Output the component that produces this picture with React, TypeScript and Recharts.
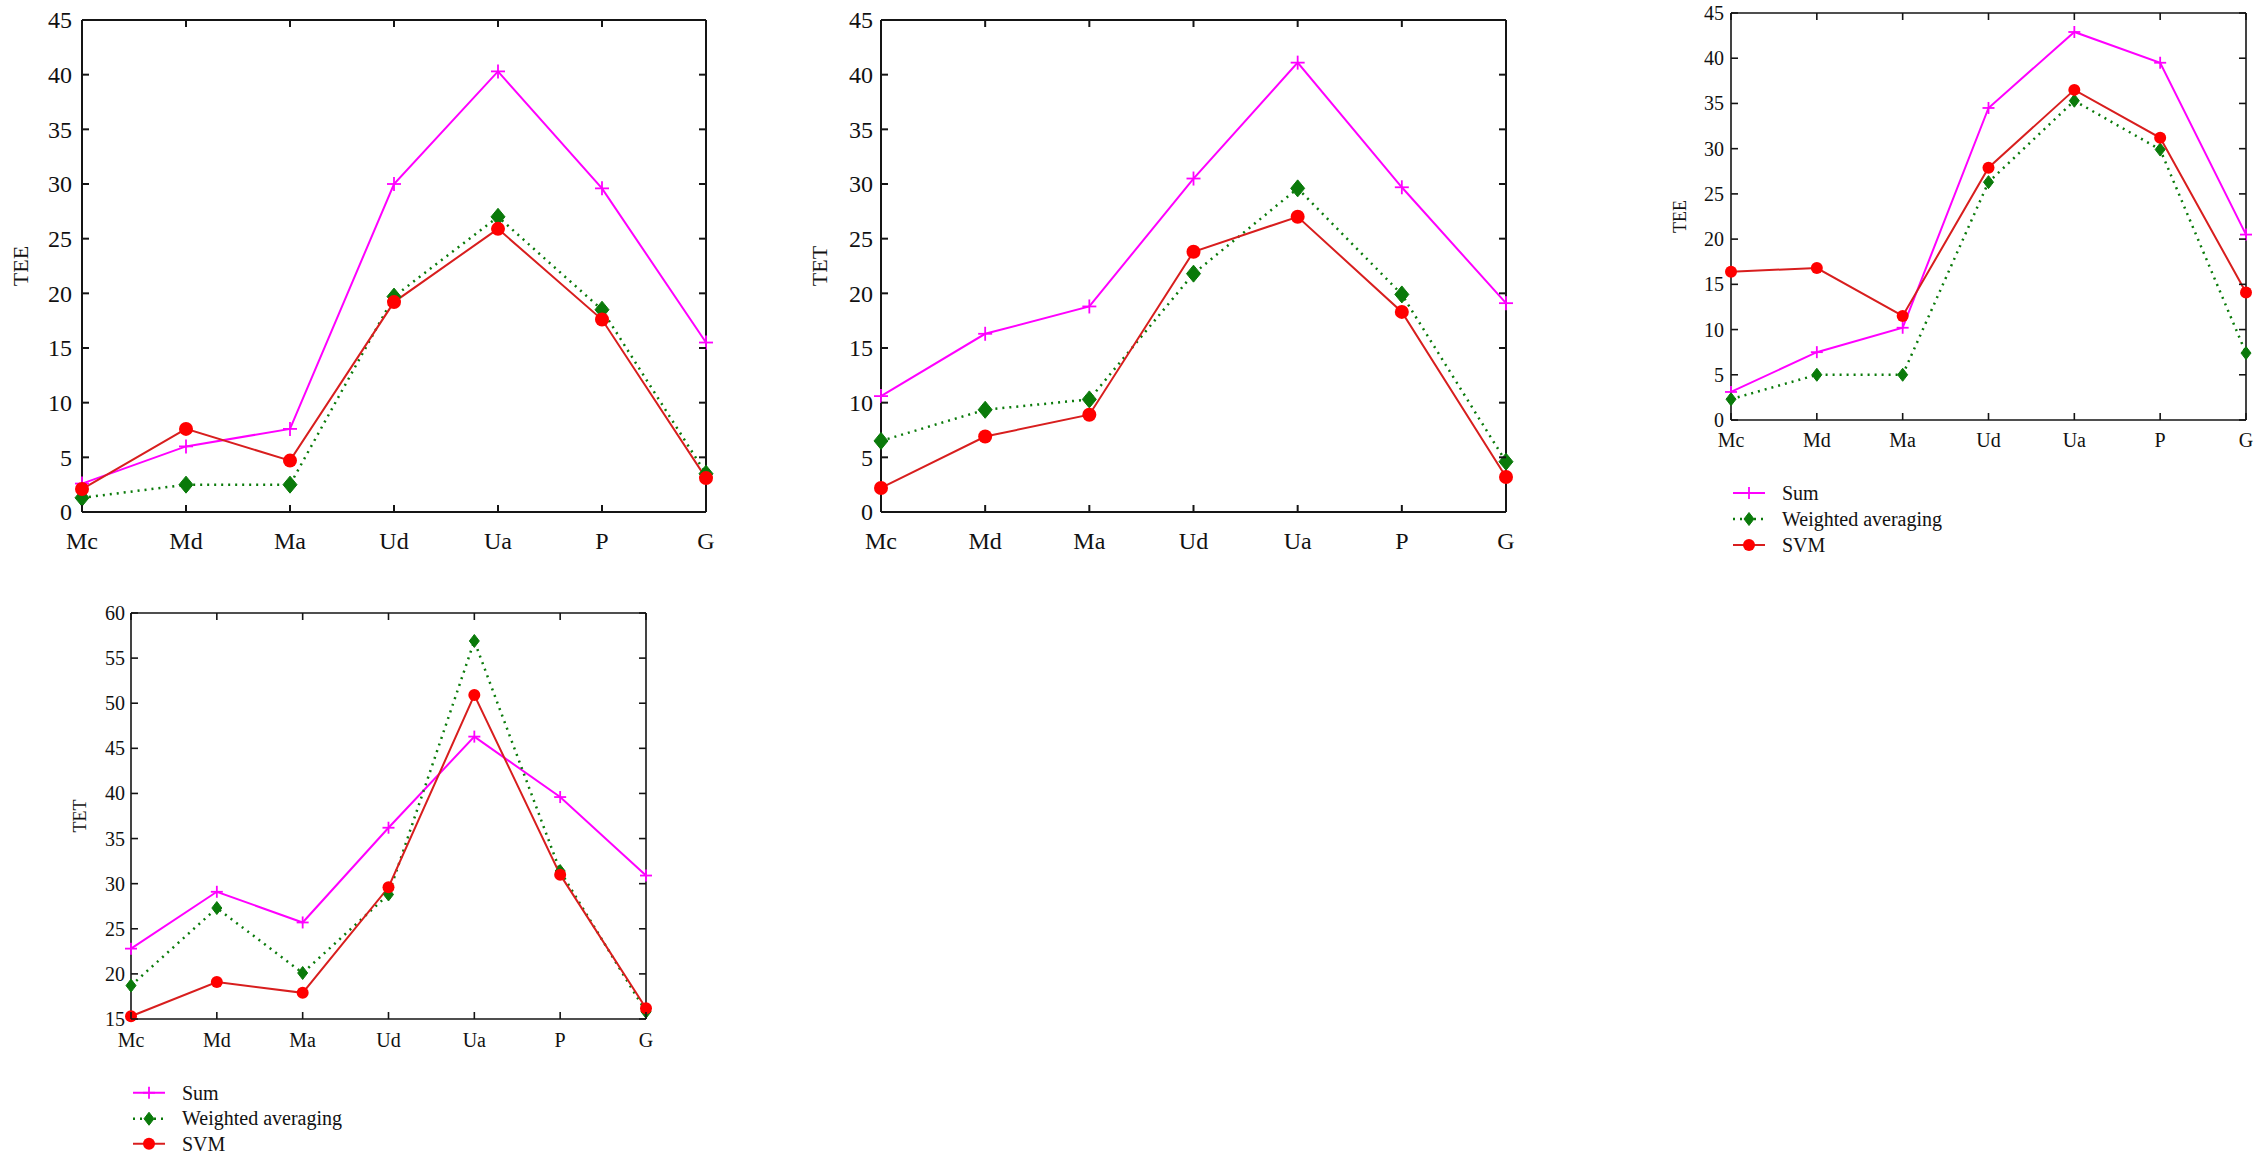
import React from "react"
import { LineChart, Line, XAxis, YAxis, Legend, ReferenceLine } from "recharts"

const categories = ["Mc", "Md", "Ma", "Ud", "Ua", "P", "G"]

// top left panel (TEE)
const sumA = [2.6, 6.0, 7.6, 30.0, 40.3, 29.6, 15.5]
const waA = [1.3, 2.5, 2.5, 19.7, 27.0, 18.5, 3.5]
const svmA = [2.1, 7.6, 4.7, 19.2, 25.9, 17.6, 3.1]

// top middle panel (TET)
const sumB = [10.6, 16.3, 18.8, 30.5, 41.1, 29.7, 19.1]
const waB = [6.5, 9.35, 10.3, 21.8, 29.6, 19.9, 4.6]
const svmB = [2.2, 6.9, 8.9, 23.8, 27.0, 18.3, 3.2]

// top right panel (TEE)
const sumC = [3.1, 7.5, 10.2, 34.5, 42.9, 39.5, 20.5]
const waC = [2.3, 5.0, 5.0, 26.3, 35.3, 29.9, 7.4]
const svmC = [16.4, 16.8, 11.5, 27.9, 36.5, 31.2, 14.1]

// bottom left panel (TET)
const sumD = [22.8, 29.1, 25.7, 36.2, 46.3, 39.6, 30.9]
const waD = [18.7, 27.3, 20.1, 28.8, 56.9, 31.4, 15.8]
const svmD = [15.3, 19.1, 17.9, 29.6, 50.9, 31.0, 16.2]

const ticks0to45 = [0, 5, 10, 15, 20, 25, 30, 35, 40, 45]
const ticks15to60 = [15, 20, 25, 30, 35, 40, 45, 50, 55, 60]

const SERIES = [
  { key: "sum", name: "Sum", stroke: "#FF00FF", fill: "#FF00FF", marker: "plus", dash: undefined, width: 2 },
  { key: "wa", name: "Weighted averaging", stroke: "#0A7A0A", fill: "#0A7A0A", marker: "diamond", dash: "2 5", width: 2.5 },
  { key: "svm", name: "SVM", stroke: "#D81E1E", fill: "#FF0000", marker: "circle", dash: undefined, width: 2 },
]

const buildRows = (sum: number[], wa: number[], svm: number[]) =>
  categories.map((cat, i) => ({ cat, sum: sum[i], wa: wa[i], svm: svm[i] }))

type MarkerSize = { r: number; dw: number; dh: number; p: number }

const INK = "#151515"
const TICK_LEN = 7
const SERIF = "'Liberation Serif', 'Times New Roman', serif"

function Marker({ kind, cx, cy, s, color, fill }: any) {
  const sz: MarkerSize = s
  if (kind === "plus") {
    return (
      <g>
        <line x1={cx - sz.p} y1={cy} x2={cx + sz.p} y2={cy} stroke={color} strokeWidth={1.8} />
        <line x1={cx} y1={cy - sz.p} x2={cx} y2={cy + sz.p} stroke={color} strokeWidth={1.8} />
      </g>
    )
  }
  if (kind === "diamond") {
    const pts = `${cx},${cy - sz.dh} ${cx + sz.dw},${cy} ${cx},${cy + sz.dh} ${cx - sz.dw},${cy}`
    return <polygon points={pts} fill={fill} stroke={fill} strokeWidth={1} />
  }
  return <circle cx={cx} cy={cy} r={sz.r} fill={fill} />
}

const makeDot = (kind: string, s: MarkerSize, color: string, fill: string) => (props: any) => {
  const { cx, cy, index } = props
  if (cx == null || cy == null) return <g key={`d-${index}`} />
  return (
    <g key={`d-${index}`}>
      <Marker kind={kind} cx={cx} cy={cy} s={s} color={color} fill={fill} />
    </g>
  )
}

function Panel(props: any) {
  const {
    box, plot, data, yDomain, yTicks, yLabel, tickFont, labelFont, labelDist,
    yTickMargin, xTickMargin, markerSize, legend, axisWidth,
  } = props
  const margin = { top: plot.top - box.top, right: box.left + box.width - plot.right, bottom: 0, left: 0 }
  const plotW = plot.right - plot.left
  const plotH = plot.bottom - plot.top
  const axisStyle = { stroke: INK, strokeWidth: axisWidth }

  // category tick: label below, inward ticks on bottom and top frame
  const xTick = (p: any) => {
    const { x, y, payload } = p
    const axisY = y - xTickMargin
    return (
      <g>
        <line x1={x} y1={axisY} x2={x} y2={axisY - TICK_LEN} stroke={INK} strokeWidth={axisWidth} />
        <line x1={x} y1={axisY - plotH} x2={x} y2={axisY - plotH + TICK_LEN} stroke={INK} strokeWidth={axisWidth} />
        <text x={x} y={y} dy="0.71em" textAnchor="middle" fontSize={tickFont} fill="#111" fontFamily={SERIF}>
          {payload.value}
        </text>
      </g>
    )
  }

  // value tick: label at left, inward ticks on left and right frame
  const yTick = (p: any) => {
    const { x, y, payload } = p
    const axisX = x + yTickMargin
    return (
      <g>
        <line x1={axisX} y1={y} x2={axisX + TICK_LEN} y2={y} stroke={INK} strokeWidth={axisWidth} />
        <line x1={axisX + plotW} y1={y} x2={axisX + plotW - TICK_LEN} y2={y} stroke={INK} strokeWidth={axisWidth} />
        <text x={x} y={y} dy="0.35em" textAnchor="end" fontSize={tickFont} fill="#111" fontFamily={SERIF}>
          {payload.value}
        </text>
      </g>
    )
  }

  const renderYLabel = (p: any) => {
    const vb = p.viewBox || {}
    const x = vb.x + vb.width - labelDist
    const y = vb.y + vb.height / 2
    return (
      <text x={x} y={y} transform={`rotate(-90 ${x} ${y})`} textAnchor="middle" dominantBaseline="central"
        fontSize={labelFont} fill="#111" fontFamily={SERIF}>
        {yLabel}
      </text>
    )
  }

  const renderLegend = () => (
    <div style={{ display: "flex", flexDirection: "column", fontFamily: SERIF }}>
      {SERIES.map((s) => (
        <div key={s.key} style={{ display: "flex", alignItems: "center", height: legend.row }}>
          <svg width={34} height={legend.row}>
            <line x1={1} y1={legend.row / 2} x2={33} y2={legend.row / 2} stroke={s.stroke}
              strokeWidth={s.width} strokeDasharray={s.dash} />
            <Marker kind={s.marker} cx={17} cy={legend.row / 2} s={markerSize} color={s.stroke} fill={s.fill} />
          </svg>
          <span style={{ marginLeft: 16, fontSize: legend.font, color: "#111", lineHeight: 1, fontFamily: SERIF }}>
            {s.name}
          </span>
        </div>
      ))}
    </div>
  )

  return (
    <div style={{ position: "absolute", left: box.left, top: box.top, fontFamily: SERIF }}>
      <LineChart width={box.width} height={box.height} data={data} margin={margin}
        style={{ fontFamily: SERIF }}>
        <XAxis dataKey="cat" interval={0} height={box.top + box.height - plot.bottom}
          axisLine={axisStyle} tickLine={false} tickSize={0} tickMargin={xTickMargin} tick={xTick} />
        <YAxis type="number" domain={yDomain} ticks={yTicks} interval={0} width={plot.left - box.left}
          axisLine={axisStyle} tickLine={false} tickSize={0} tickMargin={yTickMargin} tick={yTick}
          label={{ content: renderYLabel }} />
        <ReferenceLine y={yDomain[1]} stroke={INK} strokeWidth={axisWidth} />
        <ReferenceLine x={categories[categories.length - 1]} stroke={INK} strokeWidth={axisWidth} />
        {SERIES.map((s) => (
          <Line key={s.key} type="linear" dataKey={s.key} name={s.name} stroke={s.stroke}
            strokeWidth={s.width} strokeDasharray={s.dash}
            dot={makeDot(s.marker, markerSize, s.stroke, s.fill)} activeDot={false}
            isAnimationActive={false} />
        ))}
        {legend && (
          <Legend layout="horizontal" verticalAlign="middle" align="center" content={renderLegend}
            wrapperStyle={{ left: legend.left, top: legend.top, width: "auto" }} />
        )}
      </LineChart>
    </div>
  )
}

const bigMarks: MarkerSize = { r: 7, dw: 7, dh: 8.5, p: 7 }
const smallMarks: MarkerSize = { r: 6, dw: 5, dh: 6.5, p: 6 }

export default function App() {
  return (
    <div style={{ position: "relative", width: 2261, height: 1155, background: "#fff", overflow: "hidden" }}>
      <style>{"body{margin:0}"}</style>
      <Panel box={{ left: 0, top: 0, width: 740, height: 560 }} plot={{ left: 82, top: 20, right: 706, bottom: 512 }}
        data={buildRows(sumA, waA, svmA)} yDomain={[0, 45]} yTicks={ticks0to45} yLabel="TEE"
        tickFont={24} labelFont={22} labelDist={62} yTickMargin={10} xTickMargin={20}
        markerSize={bigMarks} axisWidth={2} />
      <Panel box={{ left: 760, top: 0, width: 780, height: 560 }} plot={{ left: 881, top: 20, right: 1506, bottom: 512 }}
        data={buildRows(sumB, waB, svmB)} yDomain={[0, 45]} yTicks={ticks0to45} yLabel="TET"
        tickFont={24} labelFont={22} labelDist={62} yTickMargin={8} xTickMargin={20}
        markerSize={bigMarks} axisWidth={2} />
      <Panel box={{ left: 1560, top: 0, width: 701, height: 580 }} plot={{ left: 1731, top: 13, right: 2246, bottom: 420 }}
        data={buildRows(sumC, waC, svmC)} yDomain={[0, 45]} yTicks={ticks0to45} yLabel="TEE"
        tickFont={20} labelFont={18} labelDist={51} yTickMargin={7} xTickMargin={13}
        markerSize={smallMarks} axisWidth={1.6}
        legend={{ left: 172, top: 480, row: 26, font: 20 }} />
      <Panel box={{ left: 0, top: 570, width: 740, height: 585 }} plot={{ left: 131, top: 613, right: 646, bottom: 1019 }}
        data={buildRows(sumD, waD, svmD)} yDomain={[15, 60]} yTicks={ticks15to60} yLabel="TET"
        tickFont={20} labelFont={18} labelDist={51} yTickMargin={6} xTickMargin={14}
        markerSize={smallMarks} axisWidth={1.6}
        legend={{ left: 132, top: 510, row: 25.5, font: 20 }} />
    </div>
  )
}
